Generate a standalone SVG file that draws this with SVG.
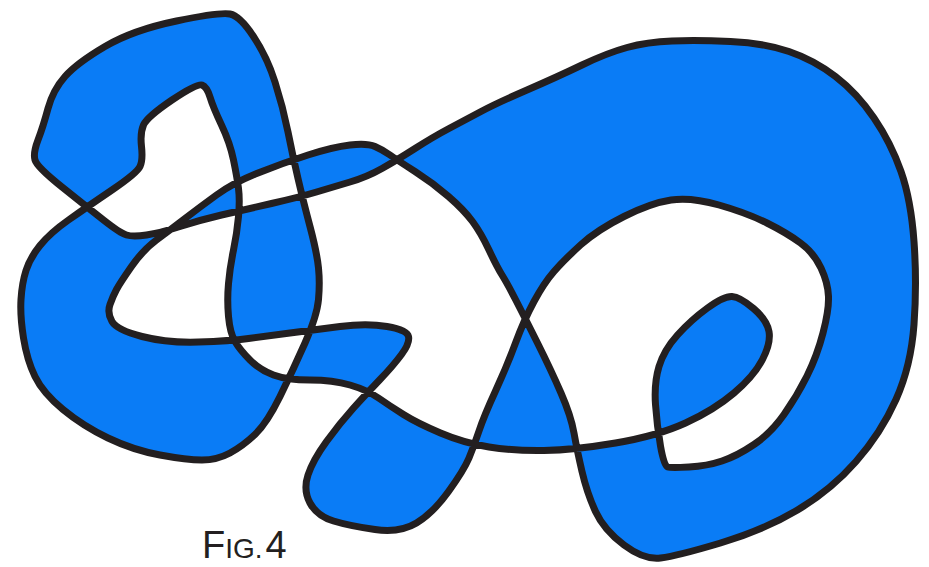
<svg xmlns="http://www.w3.org/2000/svg" width="929" height="567" viewBox="0 0 929 567">
<style>
.loop{fill:#0a7cf6;fill-rule:evenodd;stroke:#231f20;stroke-width:7;stroke-linejoin:round}
.cap{font-family:"Liberation Sans","Open Sans",sans-serif;fill:#231f20}
</style>
<rect width="929" height="567" fill="#ffffff"/>
<g id="curve">
<path class="loop" d="M48,108.5 Q53,90 65,76.5 Q77,63 105,46.5 Q133,30 176.5,21 Q220,12 230,14 Q240,16 253.5,36.5 Q267,57 275,82 Q283,107 288,132 Q293,157 298,178.5 Q303,200 310,226.5 Q317,253 318.5,268 Q320,283 318.5,299.5 Q317,316 305,343 Q293,370 280,396.5 Q267,423 255,434.5 Q243,446 230,453 Q217,460 202,460 Q187,460 160,455 Q133,450 108,438 Q83,426 63,409.5 Q43,393 35,376.5 Q27,360 23.5,338 Q20,316 21,299.5 Q22,283 26,270.5 Q30,258 40,245.5 Q50,233 68.5,220 Q87,207 112,190 Q137,173 140,166.5 Q143,160 141.5,146.5 Q140,133 143.5,125 Q147,117 172,100 Q197,83 202,85 Q207,87 210,97 Q213,107 221.5,125 Q230,143 233.5,160 Q237,177 238.5,188.5 Q240,200 238.5,216.5 Q237,233 233.5,250 Q230,267 228.5,283.5 Q227,300 228.5,316.5 Q230,333 235,341.5 Q240,350 250,360 Q260,370 273.5,375 Q287,380 310,380 Q333,380 350,385 Q367,390 378.5,398 Q390,406 403.5,414.5 Q417,423 440.5,433 Q464,443 489,447 Q514,451 544,450.5 Q574,450 615.5,443 Q657,436 685.5,423 Q714,410 734,393 Q754,376 762.5,359.5 Q771,343 769,331.5 Q767,320 753.5,308.5 Q740,297 732,296.5 Q724,296 707.5,308 Q691,320 677.5,335 Q664,350 659,366.5 Q654,383 655.5,404.5 Q657,426 660.5,446 Q664,466 667.5,467 Q671,468 689,467 Q707,466 722,461 Q737,456 754,444.5 Q771,433 784,414.5 Q797,396 807,376 Q817,356 823,333 Q829,310 828.5,296.5 Q828,283 821,268 Q814,253 800.5,243 Q787,233 767,223 Q747,213 719,205 Q691,197 671,200 Q651,203 624,216.5 Q597,230 580.5,245 Q564,260 554,271.5 Q544,283 534,301.5 Q524,320 515.5,343 Q507,366 495.5,391 Q484,416 479,431 Q474,446 469,458 Q464,470 448.5,491.5 Q433,513 416.5,523 Q400,533 375,529.5 Q350,526 333.5,521 Q317,516 310,503 Q303,490 308,475 Q313,460 326.5,441.5 Q340,423 353.5,408 Q367,393 380,379.5 Q393,366 401.5,354.5 Q410,343 408.5,336.5 Q407,330 387,326.5 Q367,323 340,326.5 Q313,330 290,333 Q267,336 248.5,338.5 Q230,341 198.5,342 Q167,343 142,336.5 Q117,330 112,321.5 Q107,313 110,304.5 Q113,296 116.5,289.5 Q120,283 131.5,266.5 Q143,250 156.5,240 Q170,230 185,218.5 Q200,207 216.5,195 Q233,183 258,173 Q283,163 308,155 Q333,147 350,145 Q367,143 375,146.5 Q383,150 390,155 Q397,160 415,171.5 Q433,183 448.5,196.5 Q464,210 472.5,221.5 Q481,233 489,250 Q497,267 502,275 Q507,283 515.5,299.5 Q524,316 537.5,343 Q551,370 561,393 Q571,416 574,433 Q577,450 582,471.5 Q587,493 595.5,511.5 Q604,530 624,545 Q644,560 660.5,558 Q677,556 720.5,543 Q764,530 797.5,510 Q831,490 856,461.5 Q881,433 896,399.5 Q911,366 914,324.5 Q917,283 914,241.5 Q911,200 901,171.5 Q891,143 874,118 Q857,93 835.5,76.5 Q814,60 789,51.5 Q764,43 730.5,41.5 Q697,40 672,41 Q647,42 627,47.5 Q607,53 582,65 Q557,77 527,90 Q497,103 481,111.5 Q465,120 449,128.5 Q433,137 415,148.5 Q397,160 382,168.5 Q367,177 350,182 Q333,187 316.5,192 Q300,197 271.5,203.5 Q243,210 221.5,215 Q200,220 180,226.5 Q160,233 146.5,235 Q133,237 126.5,235 Q120,233 103.5,220 Q87,207 62,187 Q37,167 35,160 Q33,153 38,140 Q43,127 48,108.5 Z"/>
</g>
<g id="caption">
<text class="cap" x="202" y="558"><tspan font-size="38">F</tspan><tspan font-size="28">IG.</tspan><tspan font-size="38" dx="3">4</tspan></text>
</g>
</svg>
